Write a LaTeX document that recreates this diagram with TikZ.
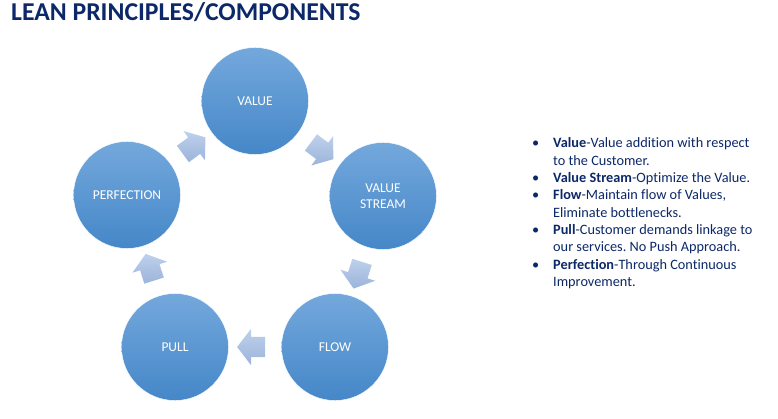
\documentclass[tikz,border=0pt]{standalone}
\usepackage{fontspec}
\setmainfont{Carlito}[Ligatures=NoCommon]
\usetikzlibrary{shapes.arrows,calc}
\definecolor{navy}{HTML}{0C2868}
\definecolor{circtop}{HTML}{74A8DC}
\definecolor{circbot}{HTML}{4587C8}
\definecolor{arrtop}{HTML}{BED1EC}
\definecolor{arrbot}{HTML}{9CB4DA}
\frenchspacing
\begin{document}
\begin{tikzpicture}[x=1pt, y=-1pt,
    principle/.style={circle, minimum size=107pt, inner sep=0pt, align=center,
        top color=circtop, bottom color=circbot, draw=white, line width=0.4pt,
        text=white, font=\fontsize{13.5}{16}\selectfont},
    flowarrow/.style={single arrow, minimum height=28pt, minimum width=36pt,
        single arrow head extend=8pt, single arrow tip angle=105,
        inner xsep=0pt, inner ysep=10pt,
        top color=arrtop, bottom color=arrbot, sloped, allow upside down}]
    \useasboundingbox (0,0) rectangle (778,419);

    % Titel
    \node[anchor=base west, inner sep=0pt, text=navy, font=\fontsize{25.7}{30}\selectfont\bfseries]
        (title) at (11,21) {LEAN PRINCIPLES/COMPONENTS};

    % Kreise
    \node[principle] (val)  at (255,101) {VALUE};
    \node[principle] (vs)   at (383,196) {VALUE\\STREAM};
    \node[principle] (flow) at (335,347) {FLOW};
    \node[principle] (pull) at (175,347) {PULL};
    \node[principle] (perf) at (127,195) {PERFECTION};

    % Pfeile zwischen den Kreisen
    \path (val)  -- node[flowarrow] (a1) {} (vs);
    \path (vs)   -- node[flowarrow] (a2) {} (flow);
    \path (flow) -- node[flowarrow] (a3) {} (pull);
    \path (pull) -- node[flowarrow] (a4) {} (perf);
    \path (perf) -- node[flowarrow] (a5) {} (val);

    % Erklaerungen
    \node[anchor=base west, inner sep=0pt, text=navy, font=\fontsize{14.3}{17.3}\selectfont]
        (notes) at (532,148) {%
        \begin{tabular}[t]{@{}p{21pt}@{}l@{}}
        \textbullet & \textbf{Value}-Value addition with respect\\
         & to the Customer.\\
        \textbullet & \textbf{Value Stream}-Optimize the Value.\\
        \textbullet & \textbf{Flow}-Maintain flow of Values,\\
         & Eliminate bottlenecks.\\
        \textbullet & \textbf{Pull}-Customer demands linkage to\\
         & our services. No Push Approach.\\
        \textbullet & \textbf{Perfection}-Through Continuous\\
         & Improvement.
        \end{tabular}};
\end{tikzpicture}
\end{document}
